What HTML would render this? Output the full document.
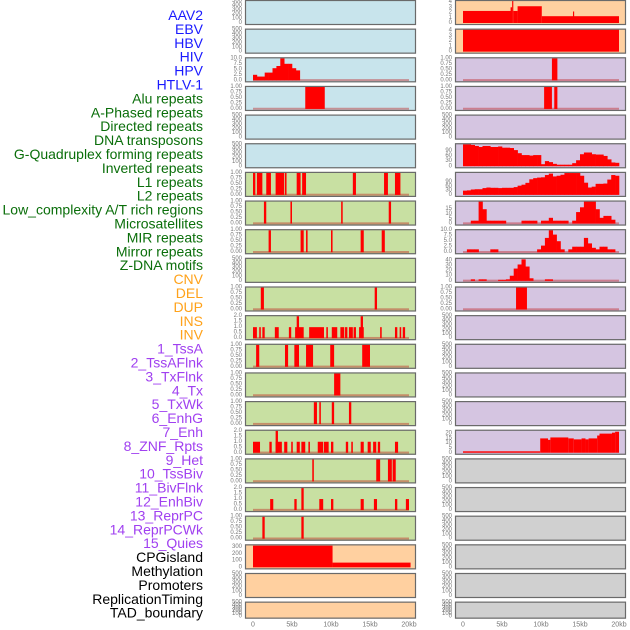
<!DOCTYPE html>
<html><head><meta charset="utf-8"><style>
html,body{margin:0;padding:0;background:#fff;width:630px;height:630px;overflow:hidden}
svg{display:block;font-family:"Liberation Sans",sans-serif}
</style></head><body>
<svg id="chart" width="630" height="630" viewBox="0 0 630 630" xmlns="http://www.w3.org/2000/svg">
<g id="labels"></g>
<g id="panels"></g>
<g id="xaxes"></g>
</svg>
<script>
// ---- labels ----
const trackNames = ["AAV2","EBV","HBV","HIV","HPV","HTLV-1","Alu repeats","A-Phased repeats","Directed repeats","DNA transposons","G-Quadruplex forming repeats","Inverted repeats","L1 repeats","L2 repeats","Low_complexity A/T rich regions","Microsatellites","MIR repeats","Mirror repeats","Z-DNA motifs","CNV","DEL","DUP","INS","INV","1_TssA","2_TssAFlnk","3_TxFlnk","4_Tx","5_TxWk","6_EnhG","7_Enh","8_ZNF_Rpts","9_Het","10_TssBiv","11_BivFlnk","12_EnhBiv","13_ReprPC","14_ReprPCWk","15_Quies","CPGisland","Methylation","Promoters","ReplicationTiming","TAD_boundary"];
const trackGroups = ["v","v","v","v","v","v","r","r","r","r","r","r","r","r","r","r","r","r","r","s","s","s","s","s","c","c","c","c","c","c","c","c","c","c","c","c","c","c","c","o","o","o","o","o"];
const xTickLabels = ["0","5kb","10kb","15kb","20kb"];
const xTickValues = [0,5,10,15,20];

// ---- tick label sets ----
const tEmpty = ["0","100","200","300","400","500"], tEmptyV=[0,100,200,300,400,500];
const tFrac = ["0.00","0.25","0.50","0.75","1.00"], tFracV=[0,0.25,0.5,0.75,1];
const tTwo = ["0.0","0.5","1.0","1.5","2.0"], tTwoV=[0,0.5,1,1.5,2];
const tTen = ["0.0","2.5","5.0","7.5","10.0"], tTenV=[0,2.5,5,7.5,10];
const tNinety = ["0","30","60","90"], tNinetyV=[0,30,60,90];
const tFour = ["0","1","2","3","4"], tFourV=[0,1,2,3,4];
const tFifteen = ["0","5","10","15"], tFifteenV=[0,5,10,15];
const tForty = ["0","10","20","30","40"], tFortyV=[0,10,20,30,40];
const tTwenty = ["0","5","10","15","20"], tTwentyV=[0,5,10,15,20];
const tThree = ["0","100","200","300"], tThreeV=[0,100,200,300];

// ---- data: bins are 0.5kb wide; segs are [startKb,endKb,value] ----
const hivBins = [2.5,1.7,1.7,3.5,3.5,5.5,6.5,10,7.5,7.5,5.5,4.5,0,0,0,0,0,0,0,0,0,0,0,0,0,0,0,0,0,0,0,0,0,0,0,0,0,0,0,0];
const aluSegs = [[6.7,9.2,1]];
const l1Segs = [[0,0.3,1],[0.5,1.2,1],[1.7,2.3,1],[2.9,4.0,1],[4.1,4.3,1],[5.6,6.1,1],[6.3,6.8,1],[12.8,13.2,1],[16.8,17.3,1],[18.2,18.9,1]];
const l2Segs = [[1.4,1.7,1],[4.8,5.0,1],[11.3,11.5,1],[17.4,17.7,1]];
const lowSegs = [[2.0,2.3,1],[6.1,6.5,1],[6.8,7.0,1],[10.0,10.2,1],[13.8,14.2,1],[16.5,16.9,1]];
const mirSegs = [[1.0,1.4,1],[15.6,15.9,1]];
const mirrorSegs = [[0,0.5,1],[0.8,1.0,1],[1.2,1.5,1],[2.8,3.3,1],[4.6,4.9,1],[5.4,6.5,1],[5.6,5.9,2],[7.2,9.1,1],[9.4,9.6,1],[10.1,10.8,1],[11.2,11.7,1],[11.8,12.1,1],[12.3,12.8,1],[12.9,13.2,1],[13.6,14.2,1],[13.8,14.1,2],[16.3,16.5,1],[18.2,18.5,1],[18.8,19.0,1],[19.2,19.5,1]];
const zdnaSegs = [[0.4,0.8,1],[4.1,4.5,1],[5.3,5.9,1],[6.8,7.7,1],[9.9,10.4,1],[14.0,15.0,1]];
const cnvSegs = [[10.4,11.2,1]];
const delSegs = [[7.8,8.2,1],[8.5,8.7,1],[10.1,10.4,1],[12.3,12.6,1]];
const dupSegs = [[0,0.9,1],[2.1,2.4,1],[2.9,3.7,1],[2.9,3.2,2],[4.0,4.4,1],[4.9,5.1,1],[5.6,6.0,1],[6.2,6.7,1],[7.1,7.3,1],[8.3,9.0,1],[9.1,9.7,1],[10.0,10.3,1],[11.9,12.2,1],[12.6,12.8,1],[13.8,14.2,1],[14.7,15.1,1],[15.4,15.8,1],[16.0,16.3,1],[18.2,18.6,1]];
const insSegs = [[7.6,7.8,1],[15.8,16.3,1],[17.3,17.8,1],[17.9,18.3,1]];
const invSegs = [[2.2,2.6,1],[5.3,5.6,1],[6.2,6.5,2],[8.5,9.0,1],[10.0,10.3,1],[13.8,14.2,1],[15.5,15.9,1],[18.2,18.5,1],[19.6,20.0,1]];
const tssaSegs = [[1.2,1.5,1],[6.2,6.5,1]];
const cpgSegs = [[0,10.2,320],[10.2,20.2,70]];
const tssaflnkSegs = [[0,6.3,2.3],[6.1,6.3,3],[6.3,6.45,4.2],[6.45,7.0,2.3],[7.0,10.1,3.2],[10.1,20,1.3],[14.1,14.25,2.2]];
const txflnkSegs = [[0,20,4.2]];
const txSegs = [[11.4,12.1,1]];
const txwkSegs = [[10.4,11.4,1],[11.7,12.1,1]];
const enhBins = [128,128,124,118,112,118,118,112,112,115,108,108,106,94,76,65,65,62,65,65,12,30,24,14,9,9,9,9,18,35,70,80,80,70,68,68,60,40,22,20];
const znfBins = [30,32,38,40,40,48,52,50,50,48,50,50,50,55,65,72,85,110,118,122,124,140,150,130,135,142,154,154,154,154,135,86,52,58,78,78,80,108,140,135];
const hetBins = [0,0,3,3,23,15,3,3,3,3,3,0,0,0,0,3,3,3,3,0,3,3,6,3,3,3,3,0,3,12,17,23,23,23,15,6,8,8,4,0];
const tssbivBins = [0,1.3,1.3,1.3,0,0,0,1.3,1.3,0,0,0,0,0,0,0,0,0,0,1.3,3,6.5,10,8,5,1.3,0,1.3,2.5,2.5,2.5,6.5,4,2,1.3,2.5,2.5,1.3,1.3,0];
const bivflnkBins = [0,0,3,0,3,3,0,0,0,2,2,3,10,24,32,42,28,5,0,0,0,3,3,0,0,0,0,0,0,0,0,0,0,0,0,0,0,0,0,0];
const enhbivSegs = [[6.8,8.2,1]];
const methylSegs = [[0,9.9,1.5],[9.9,10.9,15],[10.9,11.2,13.5],[11.2,13.5,16],[13.5,14.2,15],[14.2,15.2,14],[15.2,15.7,15],[15.7,16.1,14],[16.1,17.2,15],[17.2,17.5,18],[17.5,19.1,20],[19.1,19.5,21],[19.5,20,22]];

const BLUE="#c8e4ec", GREEN="#c8e0a2", ORANGE="#ffd0a0", PURPLE="#d5c5e1", GRAY="#d0d0d0";
const E={ticks:tEmpty,tv:tEmptyV,ymax:500};
const panels = [
 // left column
 {n:"aav2",s:0,r:0,bg:BLUE,...E},
 {n:"ebv",s:0,r:1,bg:BLUE,...E},
 {n:"hiv",s:0,r:2,bg:BLUE,ticks:tTen,tv:tTenV,ymax:10,bins:hivBins,base:1},
 {n:"alu",s:0,r:3,bg:BLUE,ticks:tFrac,tv:tFracV,ymax:1,segs:aluSegs,base:1},
 {n:"hbv",s:0,r:4,bg:BLUE,...E},
 {n:"htlv",s:0,r:5,bg:BLUE,...E},
 {n:"l1",s:0,r:6,bg:GREEN,ticks:tFrac,tv:tFracV,ymax:1,segs:l1Segs,base:1},
 {n:"l2",s:0,r:7,bg:GREEN,ticks:tFrac,tv:tFracV,ymax:1,segs:l2Segs,base:1},
 {n:"low-complexity",s:0,r:8,bg:GREEN,ticks:tFrac,tv:tFracV,ymax:1,segs:lowSegs,base:1},
 {n:"microsatellites",s:0,r:9,bg:GREEN,...E},
 {n:"mir",s:0,r:10,bg:GREEN,ticks:tFrac,tv:tFracV,ymax:1,segs:mirSegs,base:1},
 {n:"mirror",s:0,r:11,bg:GREEN,ticks:tTwo,tv:tTwoV,ymax:2,segs:mirrorSegs,base:1},
 {n:"z-dna",s:0,r:12,bg:GREEN,ticks:tFrac,tv:tFracV,ymax:1,segs:zdnaSegs,base:1},
 {n:"cnv",s:0,r:13,bg:GREEN,ticks:tFrac,tv:tFracV,ymax:1,segs:cnvSegs,base:1},
 {n:"del",s:0,r:14,bg:GREEN,ticks:tFrac,tv:tFracV,ymax:1,segs:delSegs,base:1},
 {n:"dup",s:0,r:15,bg:GREEN,ticks:tTwo,tv:tTwoV,ymax:2,segs:dupSegs,base:1},
 {n:"ins",s:0,r:16,bg:GREEN,ticks:tFrac,tv:tFracV,ymax:1,segs:insSegs,base:1},
 {n:"inv",s:0,r:17,bg:GREEN,ticks:tTwo,tv:tTwoV,ymax:2,segs:invSegs,base:1},
 {n:"tssa",s:0,r:18,bg:GREEN,ticks:tFrac,tv:tFracV,ymax:1,segs:tssaSegs,base:1},
 {n:"cpgisland",s:0,r:19,bg:ORANGE,ticks:tThree,tv:tThreeV,ymax:325,segs:cpgSegs},
 {n:"promoters",s:0,r:20,bg:ORANGE,...E},
 {n:"tad-boundary",s:0,r:21,bg:ORANGE,...E},
 // right column
 {n:"tssaflnk",s:1,r:0,bg:ORANGE,ticks:tFour,tv:tFourV,ymax:4.2,segs:tssaflnkSegs},
 {n:"txflnk",s:1,r:1,bg:ORANGE,ticks:tFour,tv:tFourV,ymax:4.2,segs:txflnkSegs},
 {n:"tx",s:1,r:2,bg:PURPLE,ticks:tFrac,tv:tFracV,ymax:1,segs:txSegs,base:1},
 {n:"txwk",s:1,r:3,bg:PURPLE,ticks:tFrac,tv:tFracV,ymax:1,segs:txwkSegs,base:1},
 {n:"enhg",s:1,r:4,bg:PURPLE,...E},
 {n:"enh",s:1,r:5,bg:PURPLE,ticks:tNinety,tv:tNinetyV,ymax:128,bins:enhBins},
 {n:"znf-rpts",s:1,r:6,bg:PURPLE,ticks:tNinety,tv:tNinetyV,ymax:155,bins:znfBins},
 {n:"het",s:1,r:7,bg:PURPLE,ticks:tFifteen,tv:tFifteenV,ymax:23,bins:hetBins,base:1},
 {n:"tssbiv",s:1,r:8,bg:PURPLE,ticks:tTen,tv:tTenV,ymax:10,bins:tssbivBins,base:1},
 {n:"bivflnk",s:1,r:9,bg:PURPLE,ticks:tForty,tv:tFortyV,ymax:43,bins:bivflnkBins,base:1},
 {n:"enhbiv",s:1,r:10,bg:PURPLE,ticks:tFrac,tv:tFracV,ymax:1,segs:enhbivSegs,base:1},
 {n:"reprpc",s:1,r:11,bg:PURPLE,...E},
 {n:"reprpcwk",s:1,r:12,bg:PURPLE,...E},
 {n:"quies",s:1,r:13,bg:PURPLE,...E},
 {n:"quies-2",s:1,r:14,bg:PURPLE,...E},
 {n:"methylation",s:1,r:15,bg:PURPLE,ticks:tTwenty,tv:tTwentyV,ymax:23,segs:methylSegs},
 {n:"replication-timing",s:1,r:16,bg:GRAY,...E},
 {n:"gray-track-18",s:1,r:17,bg:GRAY,...E},
 {n:"gray-track-19",s:1,r:18,bg:GRAY,...E},
 {n:"gray-track-20",s:1,r:19,bg:GRAY,...E},
 {n:"gray-track-21",s:1,r:20,bg:GRAY,...E},
 {n:"gray-track-22",s:1,r:21,bg:GRAY,...E}
];

const NS="http://www.w3.org/2000/svg";
function mk(tag,attrs,parent){const e=document.createElementNS(NS,tag);for(const k in attrs)e.setAttribute(k,attrs[k]);parent.appendChild(e);return e;}
const FRAME_X=[245,455], FRAME_W=171, X0=[253,463], PXKB=7.8;
function xs(side,kb){return X0[side]+kb*PXKB;}
function rowTop(r){return r*28.65;}
function rowH(r){return r===21?17:25;}

const groupColor={v:"#1a1aff",r:"#0a6e0a",s:"#ffa21a",c:"#a040f0",o:"#000000"};
const lg=document.getElementById("labels");
trackNames.forEach((t,i)=>{
  const el=mk("text",{x:203,y:15+i*13.9,"text-anchor":"end","dominant-baseline":"central","font-size":"14",fill:groupColor[trackGroups[i]]},lg);
  
  
  el.textContent=t;
});

const pg=document.getElementById("panels");
panels.forEach(p=>{
  const top=rowTop(p.r), h=rowH(p.r), bot=top+h;
  const g=mk("g",{},pg);
  
  
  const y0=bot-2, y1=top+1;
  const ys=v=>y0-(v/p.ymax)*(y0-y1);
  const bg=mk("rect",{x:FRAME_X[p.s],y:top,width:FRAME_W,height:h,fill:p.bg},g);
  
  
  if(p.base){
    const bl=mk("rect",{x:xs(p.s,0),y:y0-1.2,width:20*PXKB,height:2,fill:"rgba(190,20,20,0.4)"},g);
    
    
  }
  if(p.bins){
    p.bins.forEach((v,i)=>{
      if(v<=0)return;
      const yy=Math.max(ys(v),top+0.5);
      const b=mk("rect",{x:xs(p.s,i*0.5),y:yy,width:0.5*PXKB+0.3,height:y0-yy,fill:"#ff0000"},g);
      
      
    });
  }
  if(p.segs){
    p.segs.forEach(sg=>{
      const yy=Math.max(ys(sg[2]),top+0.5);
      const b=mk("rect",{x:xs(p.s,sg[0]),y:yy,width:Math.max((sg[1]-sg[0])*PXKB,1),height:y0-yy,fill:"#ff0000"},g);
      
      
    });
  }
  const fr=mk("rect",{x:FRAME_X[p.s]+0.5,y:top+0.5,width:FRAME_W-1,height:h-1,fill:"none",stroke:"#6a6a6a","stroke-width":"1.2"},g);
  
  
  p.ticks.forEach((t,i)=>{
    const tl=mk("text",{x:FRAME_X[p.s]-3,y:ys(p.tv[i]),"text-anchor":"end","dominant-baseline":"central","font-size":"6",fill:"#777"},g);
    
    
    tl.textContent=t;
  });
});

const xg=document.getElementById("xaxes");
[0,1].forEach(s=>{
  xTickValues.forEach((v,i)=>{
    const t=mk("text",{x:xs(s,v),y:625,"text-anchor":"middle","dominant-baseline":"central","font-size":"7",fill:"#777"},xg);
    
    
    t.textContent=xTickLabels[i];
  });
});
</script>
</body></html>
